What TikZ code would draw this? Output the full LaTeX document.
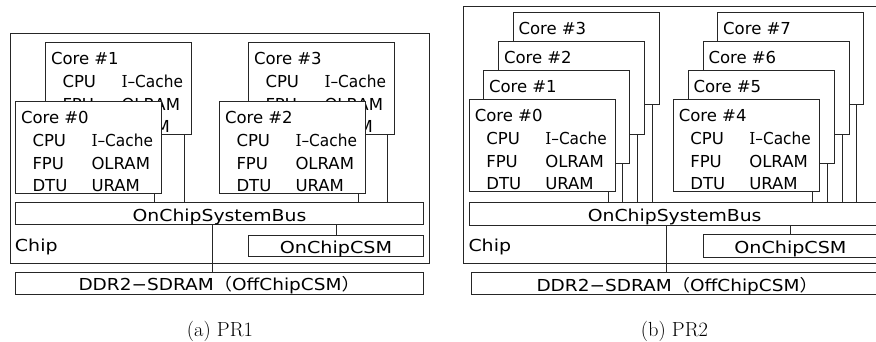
\documentclass[tikz,border=0pt]{standalone}
\usepackage{fontspec}
\newfontfamily\gothic{DejaVu Sans}
\newfontfamily\gothicserif{DejaVu Serif}
\newfontfamily\cjkjp{Noto Sans CJK JP}

\tikzset{
  box/.style={draw=black!85, line width=0.8pt, fill=white, rectangle,
    inner sep=0pt, outer sep=0pt, anchor=north west},
  corebox/.style={box, minimum width=146pt, minimum height=92.5pt},
  wire/.style={draw=black!85, line width=0.8pt},
  txt/.style={inner sep=0pt, outer sep=0pt, anchor=base west,
    font=\gothic\fontsize{16.5}{18}\selectfont},
  ctxt/.style={txt, anchor=base},
  caption/.style={inner sep=0pt, outer sep=0pt, anchor=base,
    font=\rmfamily\fontsize{20.4}{24}\selectfont},
}

% a core: box with its title; #1 name, #2 x, #3 y, #4 number
\newcommand\cpucore[4]{%
  \node[corebox] (#1) at (#2,#3) {};
  \node[txt] (#1-name) at ([shift={(5.5,22)}]#1.north west) {Core \##4};
  \coordinate (#1-port) at ([xshift=-7pt]#1.south east);
}
% the units listed inside a core
\newcommand\corebody[1]{%
  \node[txt] (#1-cpu) at ([shift={(17,45.5)}]#1.north west) {CPU};
  \node[txt] (#1-ic)  at ([shift={(76,45.5)}]#1.north west)
    {\scalebox{0.93}[1]{{\gothicserif I}–Cache}};
  \node[txt] (#1-fpu) at ([shift={(17,68)}]#1.north west) {FPU};
  \node[txt] (#1-ol)  at ([shift={(76,68)}]#1.north west) {OLRAM};
  \node[txt] (#1-dtu) at ([shift={(17,90)}]#1.north west) {DTU};
  \node[txt] (#1-ur)  at ([shift={(76,90)}]#1.north west) {URAM};
}
% label sitting on the bottom line of a wide box
\newcommand\boxlabel[3]{%
  \node[ctxt] (#1-label) at ([yshift=3.5pt]#1.south) {\scalebox{#2}[1]{#3}};
}

\begin{document}
\begin{tikzpicture}[x=1pt, y=-1pt]
\useasboundingbox (0,0) rectangle (876,341);

% ---------------- PR1 ----------------
\node[box, minimum width=419pt, minimum height=230pt] (a-chip) at (10,33) {};
\cpucore{a-c1}{45.5}{42}{1}\corebody{a-c1}
\cpucore{a-c3}{248.5}{42}{3}\corebody{a-c3}
\cpucore{a-c0}{15.5}{101}{0}\corebody{a-c0}
\cpucore{a-c2}{219.5}{101}{2}\corebody{a-c2}
\node[box, minimum width=408pt, minimum height=22pt] (a-bus) at (15.5,202.5) {};
\node[box, minimum width=175pt, minimum height=21.5pt] (a-csm) at (248.5,235) {};
\node[box, minimum width=408.5pt, minimum height=22pt] (a-ddr) at (15,272) {};
\boxlabel{a-bus}{1.14}{OnChipSystemBus}
\boxlabel{a-csm}{1.16}{OnChipCSM}
\boxlabel{a-ddr}{1.12}{DDR2−SDRAM{\cjkjp （}OffChipCSM{\cjkjp ）}}
\node[txt] (a-chiplabel) at (15,251.5) {\scalebox{1.15}[1]{Chip}};
\foreach \c in {a-c0,a-c1,a-c2,a-c3}
  \draw[wire] (\c-port) -- (\c-port |- a-bus.north);
\draw[wire] (a-csm.north) -- (a-csm.north |- a-bus.south);
\coordinate (a-mem) at (212.3,0);
\draw[wire] (a-mem |- a-bus.south) -- (a-mem |- a-ddr.north);
\node[caption] (a-cap) at (220,336) {(a) PR1};

% ---------------- PR2 ----------------
\node[box, minimum width=430pt, minimum height=257.5pt] (b-chip) at (463.5,6) {};
\cpucore{b-c3}{513}{12.3}{3}
\cpucore{b-c2}{498.5}{41.7}{2}
\cpucore{b-c1}{483.5}{70.7}{1}
\cpucore{b-c0}{469.3}{99.3}{0}\corebody{b-c0}
\cpucore{b-c7}{717.7}{12.3}{7}
\cpucore{b-c6}{703}{41.7}{6}
\cpucore{b-c5}{688}{70.7}{5}
\cpucore{b-c4}{673.3}{99.3}{4}\corebody{b-c4}
\node[box, minimum width=410.7pt, minimum height=23pt] (b-bus) at (469.3,202) {};
\node[box, minimum width=174.2pt, minimum height=23pt] (b-csm) at (703.3,234.3) {};
\node[box, minimum width=411.5pt, minimum height=22pt] (b-ddr) at (471.5,272.5) {};
\boxlabel{b-bus}{1.14}{OnChipSystemBus}
\boxlabel{b-csm}{1.16}{OnChipCSM}
\boxlabel{b-ddr}{1.12}{DDR2−SDRAM{\cjkjp （}OffChipCSM{\cjkjp ）}}
\node[txt] (b-chiplabel) at (468.5,251) {\scalebox{1.15}[1]{Chip}};
\foreach \c in {b-c0,b-c1,b-c2,b-c3,b-c4,b-c5,b-c6,b-c7}
  \draw[wire] (\c-port) -- (\c-port |- b-bus.north);
\draw[wire] (b-csm.north) -- (b-csm.north |- b-bus.south);
\coordinate (b-mem) at (666.7,0);
\draw[wire] (b-mem |- b-bus.south) -- (b-mem |- b-ddr.north);
\node[caption] (b-cap) at (674.5,336) {(b) PR2};
\end{tikzpicture}
\end{document}
